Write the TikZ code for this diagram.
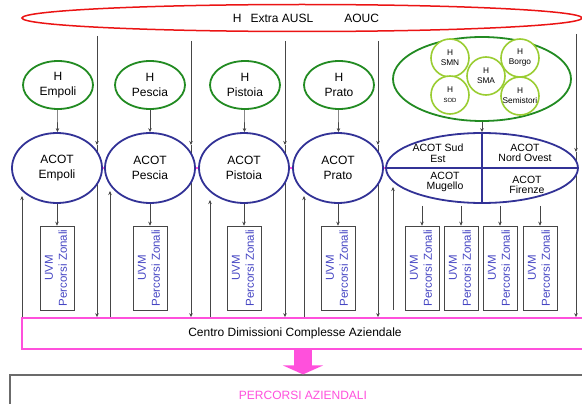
\documentclass[tikz,border=0pt]{standalone}
\usepackage{fontspec}
\setmainfont{Liberation Sans}
\usepackage{xcolor}
\usepackage{graphicx}
\usetikzlibrary{arrows.meta,shapes.geometric}
\definecolor{rosso}{RGB}{235,20,20}
\definecolor{verde}{RGB}{34,139,34}
\definecolor{verdino}{RGB}{154,205,50}
\definecolor{blu}{RGB}{50,50,150}
\definecolor{bluuvm}{RGB}{70,70,195}
\definecolor{rosa}{RGB}{255,80,220}
\definecolor{grigio}{RGB}{70,70,70}

\begin{document}
\begin{tikzpicture}[x=1pt,y=-1pt,>={Stealth[length=4pt,width=3.5pt]},
 freccia/.style={->,draw=grigio,line width=0.6pt},
 hosp/.style={ellipse,draw=verde,fill=white,line width=1.8pt,minimum width=70pt,minimum height=48pt,inner sep=0pt,align=center,font=\fontsize{12}{15}\selectfont},
 acot/.style={ellipse,draw=blu,fill=white,line width=1.8pt,minimum width=90pt,minimum height=70pt,inner sep=0pt,align=center,font=\fontsize{12}{14.5}\selectfont},
 presidio/.style={circle,draw=verdino,fill=white,line width=1.6pt,minimum size=38pt,inner sep=0pt,align=center,font=\fontsize{8.3}{10}\selectfont},
 quadtxt/.style={align=center,inner sep=0pt,font=\fontsize{10.5}{10.5}\selectfont},
 uvm/.style={draw=grigio,line width=0.5pt,minimum width=34pt,minimum height=84pt,inner sep=0pt,text=bluuvm,font=\fontsize{11.5}{14}\selectfont}]
\useasboundingbox (0,0) rectangle (582,404);
\clip (0,0) rectangle (582,404);

\node[draw=rosa,line width=1.8pt,minimum width=580pt,minimum height=31pt,inner sep=0pt,font=\fontsize{12}{14}\selectfont] (centro) at (312,333.5) {Centro Dimissioni Complesse Aziendale\hspace*{34pt}};
\node[draw=grigio!80,line width=1.2pt,minimum width=586pt,minimum height=40pt,inner sep=0pt,text=rosa,font=\fontsize{12}{14}\selectfont] (percorsi) at (303,395) {PERCORSI AZIENDALI};
\draw[rosa,line width=18pt,-{Triangle[width=40pt,length=9pt]}] (centro.south -| percorsi.north) -- (percorsi.north);

% linee verticali
\foreach \x/\y in {97/36,191/41,285/41,378/41}{
 \draw[freccia] (\x,\y) -- (\x,145);
 \draw[freccia] (\x,145) -- (\x,0 |- centro.north);
}
\draw[freccia] (576,34) -- (576,152);
\draw[freccia] (576,152) -- (576,0 |- centro.north);
\foreach \x/\y in {22/196,110/191,210/200,304/196}
 \draw[freccia] (\x,0 |- centro.north) -- (\x,\y);
\draw[freccia] (393,310) -- (393,187);

\node[ellipse,draw=rosso,line width=1.5pt,minimum width=560pt,minimum height=27pt,inner sep=0pt,font=\fontsize{12}{14}\selectfont] (extra) at (302,18) {\hspace*{8pt}H\hspace{9pt}Extra AUSL\hspace{31pt}AOUC};

\node[hosp] (hemp) at (58,85) {H\\Empoli};
\node[hosp] (hpes) at (150,85) {H\\Pescia};
\node[hosp] (hpis) at (245,85) {H\\Pistoia};
\node[hosp] (hpra) at (339,85) {H\\Prato};

\node[ellipse,draw=verde,fill=white,line width=1.8pt,minimum width=178pt,minimum height=84pt,inner sep=0pt] (hfi) at (482,79) {};
\node[presidio] (smn) at (450,58) {H\\SMN};
\node[presidio] (borgo) at (520,58) {H\\Borgo};
\node[presidio] (sod) at (450,95) {H\\{\fontsize{6}{8}\selectfont SOD}};
\node[presidio] (semi) at (520,96) {H\\Semistori};
\node[presidio] (sma) at (486,76) {H\\SMA};

\node[acot] (aemp) at (57,168) {ACOT\\Empoli};
\node[acot] (apes) at (150,168) {ACOT\\Pescia};
\node[acot] (apis) at (244,168) {ACOT\\Pistoia};
\node[acot] (apra) at (338,168) {ACOT\\Prato};
\node[ellipse,draw=blu,fill=white,line width=1.8pt,minimum width=192pt,minimum height=70pt,inner sep=0pt] (afi) at (482,168) {};
\draw[blu,line width=1.8pt] (afi.west) -- (afi.east) (afi.north) -- (afi.south);
\node[quadtxt] (sudest) at (438,153) {ACOT Sud\\Est};
\node[quadtxt] (nordovest) at (525,153) {ACOT\\Nord Ovest};
\node[quadtxt] (mugello) at (445,182) {ACOT\\Mugello};
\node[quadtxt] (firenze) at (527,185) {ACOT\\Firenze};

\draw[rosa,line width=1.5pt] (aemp.east) -- (apes.west) (apes.east) -- (apis.west) (apis.east) -- (apra.west) (apra.east) -- (afi.west);

\foreach \n/\x in {uemp/57,upes/150,upis/244,upra/338,usud/422,unord/461,umug/500,ufir/540}
 \node[uvm] (\n) at (\x,268) {\rotatebox{90}{\begin{tabular}{@{}c@{}}UVM\\Percorsi Zonali\end{tabular}}};

\draw[freccia] (hemp) -- (aemp);
\draw[freccia] (hpes) -- (apes);
\draw[freccia] (hpis) -- (apis);
\draw[freccia] (hpra) -- (apra);
\draw[freccia] (hfi) -- (afi);
\draw[freccia] (aemp) -- (uemp);
\draw[freccia] (apes) -- (upes);
\draw[freccia] (apis) -- (upis);
\draw[freccia] (apra) -- (upra);
\foreach \n in {usud,unord,umug,ufir}
 \draw[freccia,shorten <=2pt] (\n.north |- afi.south) -- (\n.north);
\end{tikzpicture}
\end{document}
